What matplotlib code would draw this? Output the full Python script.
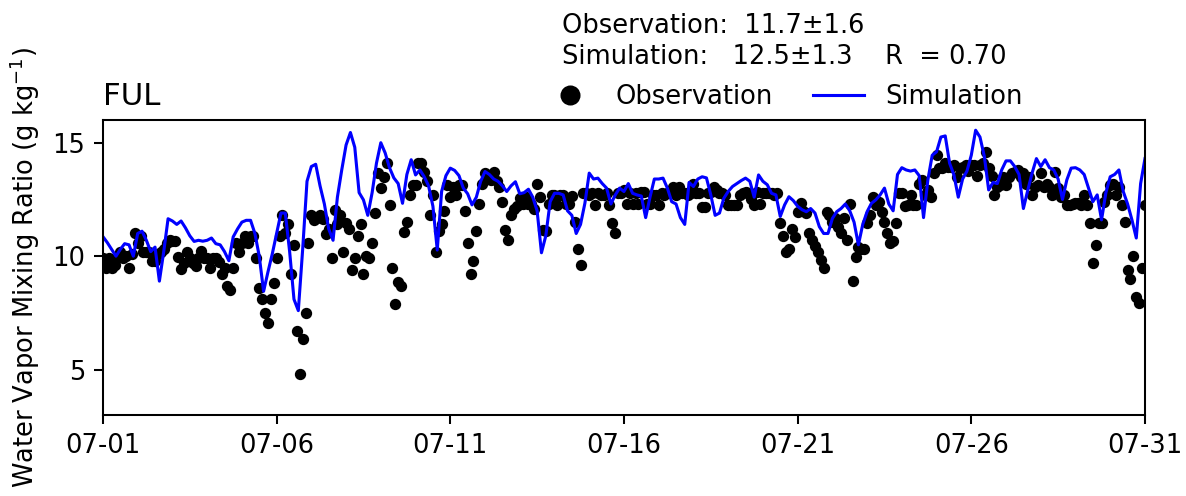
import numpy as np
import pandas as pd
import matplotlib
matplotlib.use('Agg')
import matplotlib.pyplot as plt
import matplotlib.dates as mdates

# Simulation, 3-hourly, 07-01 00:00 .. 07-31 00:00 (one row per day)
sim_values = [
    10.86, 10.6, 10.3, 10.0, 10.3, 10.55, 10.5, 10.0,
    11.0, 11.1, 10.7, 10.2, 10.4, 8.9, 10.2, 11.65,
    11.55, 11.4, 11.55, 11.25, 10.9, 10.65, 10.7, 10.66,
    10.7, 10.8, 10.55, 10.5, 10.2, 9.8, 10.85, 11.2,
    11.5, 11.58, 11.58, 11.0, 10.0, 8.45, 9.3, 10.1,
    11.0, 11.9, 11.9, 10.2, 8.1, 7.6, 10.3, 13.3,
    13.95, 14.05, 13.1, 12.3, 11.2, 10.7, 12.6, 13.8,
    14.9, 15.45, 14.8, 12.8, 12.48, 11.8, 12.8, 14.1,
    15.0, 14.55, 13.9, 13.45, 13.2, 12.33, 13.6, 14.25,
    13.58, 13.8, 13.5, 13.1, 12.2, 10.27, 12.85, 13.55,
    13.88, 13.78, 13.55, 13.0, 12.75, 12.26, 12.6, 13.3,
    13.73, 13.6, 13.4, 13.3, 13.1, 12.85, 13.1, 13.28,
    12.75, 12.8, 12.95, 12.6, 12.0, 10.15, 10.9, 12.4,
    12.77, 12.77, 12.7, 12.0, 11.8, 11.0, 11.4, 12.33,
    13.66, 13.4, 13.44, 13.2, 13.0, 12.3, 12.7, 13.0,
    12.85, 13.2, 12.77, 12.7, 12.65, 11.7, 12.6, 13.4,
    13.4, 13.44, 13.0, 12.4, 12.3, 11.7, 11.4, 13.25,
    13.07, 13.4, 13.5, 13.45, 12.7, 11.8, 11.9, 12.55,
    12.85, 13.07, 13.2, 13.33, 13.44, 13.3, 12.6, 13.58,
    13.3, 13.15, 12.77, 12.7, 11.75, 12.26, 12.62, 12.45,
    12.2, 12.05, 11.96, 12.1, 11.9, 11.3, 11.0, 11.0,
    11.66, 11.96, 12.1, 12.3, 12.0, 11.5, 10.5, 11.4,
    11.96, 12.33, 12.48, 12.7, 13.0, 12.3, 12.0, 13.6,
    13.9, 13.8, 13.75, 13.8, 13.55, 11.7, 13.36, 14.45,
    14.6, 15.25, 15.3, 14.1, 13.58, 12.6, 13.4, 13.75,
    14.45, 15.55, 15.25, 14.4, 12.92, 13.25, 13.2, 13.8,
    14.2, 14.2, 13.95, 13.6, 12.1, 12.9, 13.66, 14.3,
    13.95, 14.25, 13.9, 13.8, 13.4, 12.5, 13.36, 13.88,
    13.9, 13.8, 13.6, 13.0, 12.4, 12.7, 11.6, 12.8,
    13.5, 13.6, 13.8, 12.85, 12.3, 11.6, 10.8, 13.2,
    14.3,
]

# Observation, 2-hourly, 07-01 00:00 .. 07-31 00:00 (one row per day)
obs_values = [
    9.9, 9.5, 9.9, 9.5, 9.6, 9.9, 10.2, 9.9, 10.0, 9.5, 10.1, 11.0,
    10.6, 10.9, 10.2, 10.2, 10.2, 9.8, 9.8, 10.1, 10.2, 10.3, 10.6, 10.7,
    10.66, 10.66, 9.97, 9.45, 9.7, 10.2, 9.9, 9.7, 9.55, 9.9, 10.25, 9.9,
    9.9, 9.5, 9.9, 9.9, 9.75, 9.2, 9.5, 8.7, 8.5, 9.5, 10.56, 10.2,
    10.56, 10.9, 10.56, 10.9, 10.9, 9.9, 8.6, 8.1, 7.5, 7.05, 8.1, 8.8,
    9.9, 10.9, 11.8, 11.0, 11.4, 9.2, 10.5, 6.7, 4.8, 6.35, 7.5, 10.6,
    11.8, 11.6, 11.7, 11.8, 11.66, 10.97, 11.2, 9.9, 12.03, 11.4, 11.8, 10.2,
    11.44, 11.2, 9.4, 9.9, 10.9, 11.4, 9.2, 10.0, 9.9, 10.6, 11.9, 13.66,
    13.0, 13.5, 14.1, 12.26, 9.5, 7.9, 8.86, 8.7, 11.08, 11.5, 12.7, 13.14,
    13.14, 14.1, 14.1, 13.7, 13.3, 11.8, 12.7, 10.2, 11.1, 11.4, 12.0, 13.14,
    12.6, 13.07, 12.7, 13.14, 13.14, 12.0, 10.6, 9.2, 9.8, 11.1, 12.3, 13.2,
    13.66, 13.4, 13.36, 13.73, 13.3, 13.07, 12.4, 11.15, 10.7, 11.8, 12.1, 12.2,
    12.55, 12.3, 12.62, 12.3, 12.3, 12.1, 13.2, 12.6, 11.15, 11.1, 12.3, 12.7,
    12.7, 12.26, 12.7, 12.7, 12.3, 12.3, 12.65, 11.5, 10.3, 9.6, 12.77, 12.77,
    12.7, 12.77, 12.26, 12.77, 12.7, 12.7, 12.77, 12.26, 11.44, 11.0, 12.77, 12.8,
    12.9, 12.3, 12.77, 12.3, 12.77, 12.3, 12.85, 12.85, 12.3, 12.3, 12.7, 12.7,
    12.26, 12.77, 12.7, 12.77, 12.8, 13.07, 12.7, 13.07, 12.77, 12.77, 12.7, 12.77,
    13.2, 12.77, 12.77, 12.18, 12.18, 12.77, 12.85, 13.07, 12.9, 12.77, 12.77, 12.7,
    12.26, 12.26, 12.26, 12.26, 12.7, 12.77, 12.85, 12.77, 12.5, 12.26, 12.85, 12.3,
    12.77, 12.77, 12.77, 12.77, 12.7, 12.77, 11.44, 10.9, 10.2, 10.3, 11.2, 10.85,
    11.96, 12.33, 12.0, 11.9, 11.04, 10.7, 10.45, 10.2, 9.82, 9.5, 11.96, 11.8,
    11.5, 11.7, 11.3, 11.0, 11.7, 10.7, 12.3, 8.9, 9.97, 10.4, 10.3, 10.3,
    11.44, 11.8, 12.62, 12.26, 12.4, 11.96, 11.5, 11.0, 10.6, 10.66, 11.44, 12.77,
    12.77, 12.2, 12.26, 12.7, 12.26, 12.26, 13.2, 13.36, 12.7, 12.92, 12.62, 13.66,
    14.44, 13.88, 13.88, 14.1, 13.95, 13.95, 14.0, 13.5, 13.9, 13.95, 14.0, 13.75,
    14.0, 14.0, 13.55, 14.0, 14.1, 14.6, 13.9, 13.55, 12.7, 13.07, 13.14, 13.5,
    13.14, 13.5, 13.66, 13.73, 13.8, 13.5, 13.66, 13.2, 13.5, 12.7, 13.07, 13.14,
    13.66, 13.07, 13.2, 13.07, 12.7, 13.73, 13.0, 12.62, 12.7, 12.26, 12.26, 12.3,
    12.33, 12.33, 12.26, 12.7, 12.26, 11.44, 9.7, 10.5, 11.44, 11.44, 12.4, 12.7,
    13.14, 13.2, 12.7, 13.07, 12.26, 11.5, 9.4, 9.0, 10.0, 8.2, 7.95, 9.5,
    12.26,
]

site = 'FUL'
obs_stats = '11.7±1.6'
sim_stats = '12.5±1.3'
corr_r = '0.70'

sim_time = pd.date_range('2019-07-01', periods=len(sim_values), freq='3h')
obs_time = pd.date_range('2019-07-01', periods=len(obs_values), freq='2h')

fig = plt.figure(figsize=(1186 / 185, 496 / 185), dpi=185)
ax = fig.add_axes([0.0868, 0.1633, 0.8786, 0.5947])

ax.plot(obs_time, obs_values, 'o', color='k', ms=3.4, ls='none', label='Observation')
ax.plot(sim_time, sim_values, '-', color='b', lw=1.2, label='Simulation')

ax.set_xlim(pd.Timestamp('2019-07-01'), pd.Timestamp('2019-07-31'))
ax.set_ylim(3, 16)
ax.set_yticks([5, 10, 15])
ax.xaxis.set_major_locator(mdates.DayLocator(bymonthday=[1, 6, 11, 16, 21, 26, 31]))
ax.xaxis.set_major_formatter(mdates.DateFormatter('%m-%d'))

ax.set_ylabel('Water Vapor Mixing Ratio (g kg$^{-1}$)')
ax.set_title(site, loc='left')

ax.legend(ncol=2, frameon=False, markerscale=2, loc='center left',
          columnspacing=1.55, bbox_to_anchor=(0.401, 1.078))

fig.text(562 / 1186, 1 - 33 / 496, f'Observation:  {obs_stats}', va='baseline')
fig.text(562 / 1186, 1 - 64 / 496, f'Simulation:   {sim_stats}    R  = {corr_r}', va='baseline')

fig.savefig('out.png', dpi=185)
